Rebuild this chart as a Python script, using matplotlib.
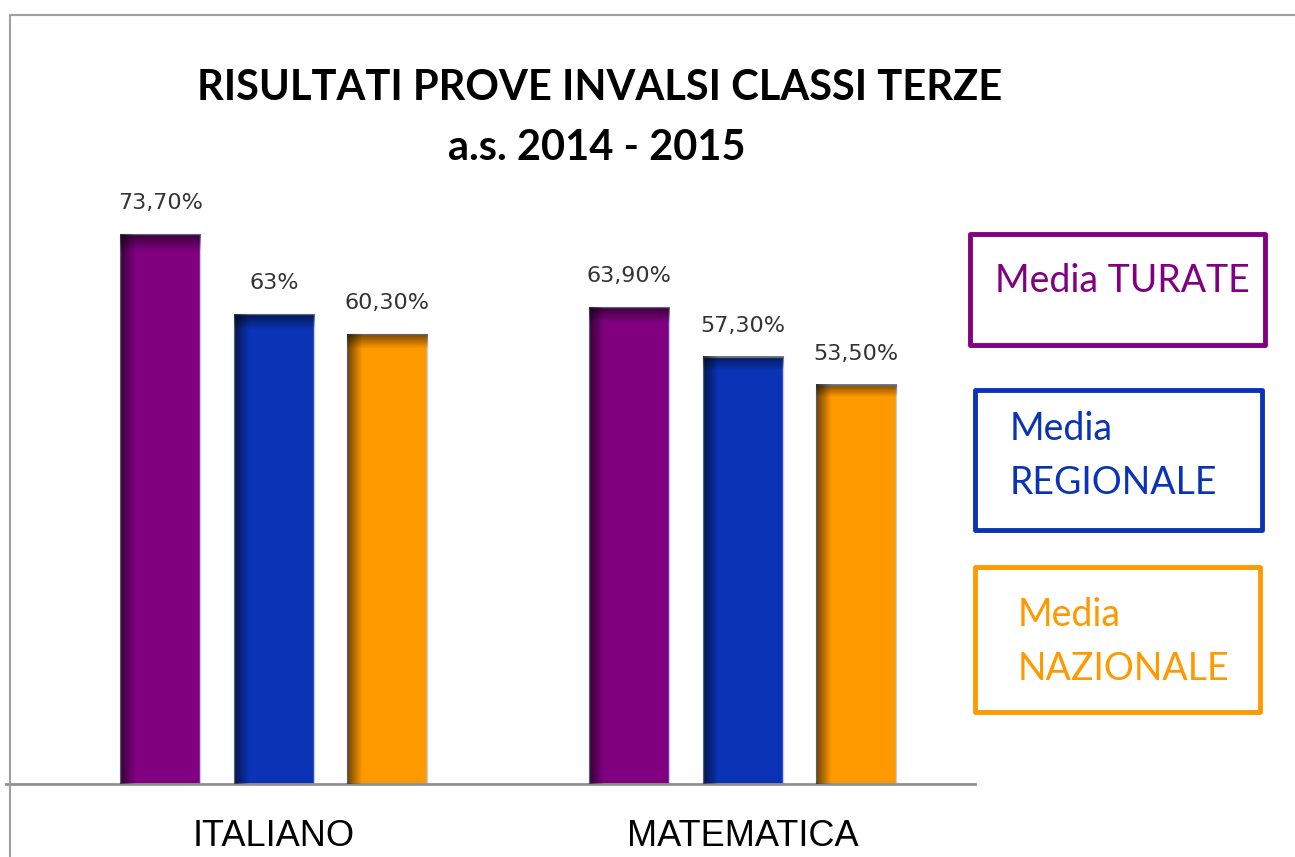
import numpy as np
import matplotlib
matplotlib.use("Agg")
import matplotlib.pyplot as plt
from matplotlib.patches import Rectangle

# data
categories = ["ITALIANO", "MATEMATICA"]
series = ["Media TURATE", "Media\nREGIONALE", "Media\nNAZIONALE"]
values = [[73.7, 63.9],   # Turate
          [63.0, 57.3],   # Regionale
          [60.3, 53.5]]   # Nazionale
labels = [["73,70%", "63,90%"],
          ["63%", "57,30%"],
          ["60,30%", "53,50%"]]
colors = ["#800080", "#0A33B5", "#FF9900"]

W, H = 1295, 857
fig = plt.figure(figsize=(W / 100, H / 100), dpi=100)

# outer gray frame (cut off at right / bottom like the screenshot)
fig.patches.append(Rectangle((10 / W, -0.1), 1.2, 1 - 15 / H + 0.1,
                             transform=fig.transFigure, fill=False,
                             edgecolor="#a0a0a0", linewidth=1.5))

ax = fig.add_axes([6 / W, 1 - 784 / H, (975 - 6) / W, (784 - 38) / H])
ax.set_xlim(-0.571, 1.495)
ax.set_ylim(0, 100)
for s in ["top", "right", "left"]:
    ax.spines[s].set_visible(False)
ax.spines["bottom"].set_color("#909090")
ax.spines["bottom"].set_linewidth(2)
ax.set_yticks([])
ax.set_xticks([])
ax.patch.set_alpha(0)

step = 0.242
width = 0.171
x = np.arange(len(categories))
shade = np.linspace(0, 1, 40)
for i, (vals, labs, c) in enumerate(zip(values, labels, colors)):
    pos = x + (i - 1) * step
    bars = ax.bar(pos, vals, width, color=c, edgecolor="#c0d0ee", linewidth=1, zorder=2)
    for b, v, lab in zip(bars, vals, labs):
        # darker shading on the left edge and the top
        g = np.clip(1 - shade / 0.18, 0, 1)[None, :] * 0.55
        ax.imshow(np.dstack([np.zeros((1, 40, 3)), g[..., None]]),
                  extent=(b.get_x(), b.get_x() + width, 0, v),
                  aspect="auto", zorder=3, clip_path=b, interpolation="bilinear")
        gt = np.clip(1 - np.linspace(0, 1, 200) / 0.03, 0, 1)[:, None] * 0.5
        ax.imshow(np.dstack([np.zeros((200, 1, 3)), gt[..., None]]),
                  extent=(b.get_x(), b.get_x() + width, 0, v),
                  aspect="auto", zorder=3, clip_path=b, interpolation="bilinear")
        ax.annotate(lab, (b.get_x() + width / 2, v), xytext=(0, 15),
                    textcoords="offset points", ha="center", va="bottom",
                    fontsize=16, color="#333333", family="DejaVu Sans")

for xi, cat in zip(x, categories):
    ax.text(xi, -7.0, cat, ha="center", va="center", fontsize=26,
            family="Liberation Sans", transform=ax.transData, clip_on=False)

fig.text(600 / W, 1 - 88 / H, "RISULTATI PROVE INVALSI CLASSI TERZE",
         ha="center", va="center", fontsize=30, fontweight="bold", family="Lato")
fig.text(597 / W, 1 - 148 / H, "a.s. 2014 - 2015",
         ha="center", va="center", fontsize=30, fontweight="bold", family="Lato")

# legend boxes
boxes = [(970, 234, 1265, 345), (975, 390, 1262, 530), (975, 567, 1260, 712)]
text_pos = [(995, 281), (1010, 456), (1018, 642)]
for (x0, y0, x1, y1), (tx, ty), name, c in zip(boxes, text_pos, series, colors):
    fig.patches.append(Rectangle((x0 / W, 1 - y1 / H), (x1 - x0) / W, (y1 - y0) / H,
                                 transform=fig.transFigure, fill=False,
                                 edgecolor=c, linewidth=3.5, joinstyle="round"))
    fig.text(tx / W, 1 - ty / H, name, ha="left", va="center", fontsize=27,
             color=c, family="Lato", linespacing=1.6)

fig.savefig("out.png", dpi=100)
